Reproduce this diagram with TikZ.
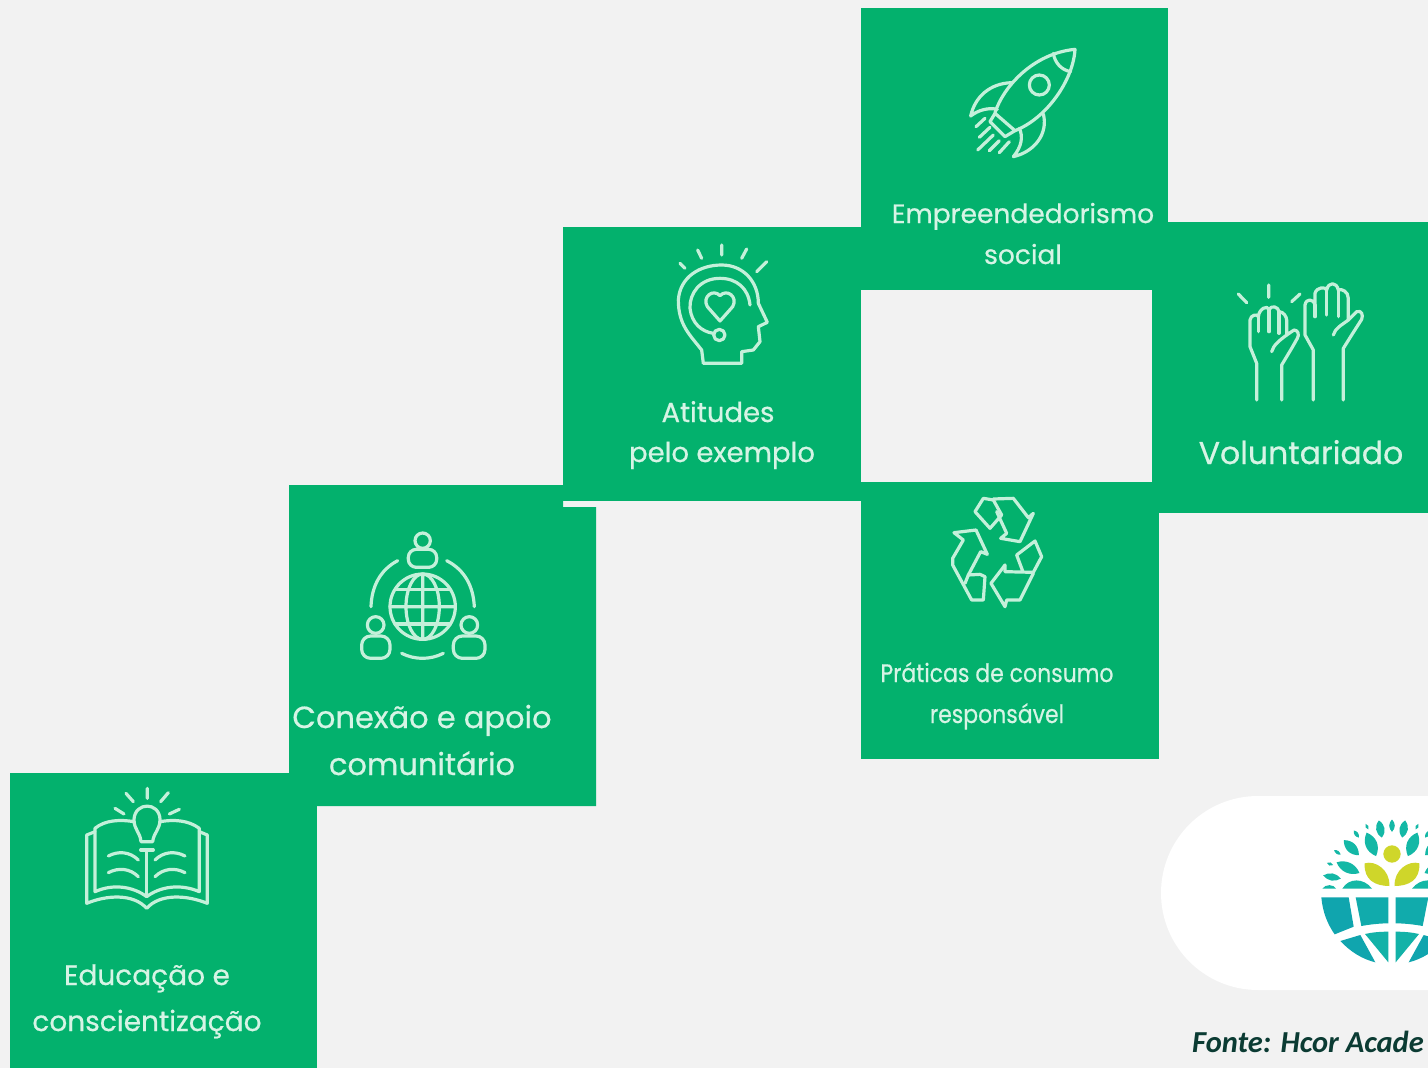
\documentclass[tikz,border=0pt]{standalone}
\usepackage{fontspec}
\setmainfont{Poppins}[FakeBold=0.6]
\newfontfamily\notefont{Carlito}
\definecolor{tilegreen}{HTML}{03B16D}
\definecolor{pagegray}{HTML}{F2F2F2}
\definecolor{iconline}{HTML}{C4F0DA}
\definecolor{labeltext}{HTML}{D6F4E5}
\definecolor{noteink}{HTML}{0B3B33}
\definecolor{leafteal}{HTML}{14B8A6}
\definecolor{leafyellow}{HTML}{CFD62A}
\definecolor{globeteal}{HTML}{10A5AE}
\tikzset{
  iconpath/.style={draw=iconline,line width=3.2pt,line cap=round,line join=round},
  tilelabel/.style={text=labeltext,anchor=base,inner sep=0pt,font=\fontsize{#1}{#1}\selectfont},
  leaf/.style={fill=leafteal},
  globepiece/.style={fill=globeteal}
}
\newcommand{\logoleaf}[5]{\fill[leaf,shift={(#1,#2)},rotate=#5] (0,-#3) .. controls (#4*1.3,-#3*.4) and (#4*1.3,#3*.4) .. (0,#3) .. controls (-#4*1.3,#3*.4) and (-#4*1.3,-#3*.4) .. cycle;}
\begin{document}
\begin{tikzpicture}[>=stealth,x=1pt,y=-1pt]
  \useasboundingbox (0,0) rectangle (1428,1068);
  \clip (0,0) rectangle (1428,1068);
  \fill[pagegray] (0,0) rectangle (1428,1068);
  % tiles
  \fill[tilegreen] (10,773) rectangle (317,1068);
  \fill[tilegreen] (289,485) -- (563,485) -- (563,507) -- (596,507) -- (596,806) -- (289,806) -- cycle;
  \fill[tilegreen] (563,227) rectangle (861,501);
  \fill[tilegreen] (861,8) rectangle (1168,290);
  \fill[tilegreen] (1152,222) rectangle (1428,513);
  \fill[tilegreen] (861,482) rectangle (1159,759);
  % labels
  \node[tilelabel=28] (educacao) at (147,985) {Educação e};
  \node[tilelabel=28] (conscient) at (147,1031) {conscientização};
  \node[tilelabel=30.5] (conexao) at (422,728) {Conexão e apoio};
  \node[tilelabel=30.5] (comunit) at (422,775) {comunitário};
  \node[tilelabel=27.5] (atitudes) at (718,422) {Atitudes};
  \node[tilelabel=27.5] (exemplo) at (722,462) {pelo exemplo};
  \node[tilelabel=26.5] (empreend) at (1023,223) {Empreendedorismo};
  \node[tilelabel=26.5] (socialtxt) at (1023,264) {social};
  \node[tilelabel=31.5] (volunt) at (1301,464) {Voluntariado};
  \node[tilelabel=22,yscale=1.15,transform shape] (praticas) at (997,682) {Práticas de consumo};
  \node[tilelabel=22,yscale=1.15,transform shape] (respons) at (997,723) {responsável};
  % rocket
  \begin{scope}[shift={(940,30)},scale=1/3,iconpath]
    \draw (165,248) .. controls (190,170) and (280,70) .. (405,58) .. controls (400,150) and (320,265) .. (225,302);
    \draw (340,70) .. controls (345,100) and (365,120) .. (392,125);
    \draw (298,165) circle (30);
    \draw (215,158) .. controls (150,160) and (105,200) .. (92,258) .. controls (115,240) and (145,232) .. (172,238);
    \draw (310,252) .. controls (325,310) and (285,365) .. (220,380) .. controls (245,350) and (250,320) .. (238,295);
    \draw (165,250) -- (225,302) -- (195,320) -- (150,275) -- cycle;
    \draw (108,290) -- (135,265) (118,322) -- (150,292) (113,360) -- (160,315) (148,362) -- (178,332) (178,368) -- (208,335);
  \end{scope}
  % head
  \begin{scope}[shift={(650,235)},scale=1/3,iconpath]
    \draw (90,85) -- (105,100) (143,45) -- (155,70) (215,30) -- (215,60) (290,42) -- (275,70) (350,80) -- (320,110);
    \draw (160,385) -- (155,345) .. controls (120,300) and (85,270) .. (85,195) .. controls (90,125) and (150,90) .. (215,90) .. controls (280,90) and (325,140) .. (325,205) -- (352,262) -- (325,275) -- (330,320) -- (310,345) -- (275,350) -- (275,385) -- cycle;
    \draw (300,210) .. controls (295,160) and (260,130) .. (210,130) .. controls (150,130) and (118,175) .. (120,220) .. controls (125,265) and (155,290) .. (190,295);
    \draw (208,300) circle (17);
    \draw (210,258) -- (172,215) .. controls (155,185) and (190,160) .. (210,182) .. controls (230,160) and (265,185) .. (248,215) -- cycle;
  \end{scope}
  % hands
  \begin{scope}[shift={(1220,270)},scale=1/3,iconpath]
    \draw (55,72) -- (80,98) (146,45) -- (146,82) (240,72) -- (215,95);
    \draw (280,390) -- (280,240) -- (255,195) -- (255,105) .. controls (258,85) and (280,85) .. (285,105) -- (285,70) .. controls (290,50) and (318,50) .. (320,60) .. controls (325,35) and (350,35) .. (355,60) .. controls (365,55) and (385,65) .. (385,85) -- (385,150) -- (410,125) .. controls (425,120) and (430,135) .. (425,148) -- (395,195) -- (370,235) -- (370,390);
    \draw (285,105) -- (285,140) (320,60) -- (320,135) (355,60) -- (355,140);
    \draw (340,195) .. controls (345,175) and (365,165) .. (385,150);
    \draw (110,390) -- (110,280) -- (90,230) -- (90,150) .. controls (92,135) and (112,130) .. (115,140) .. controls (118,115) and (142,105) .. (147,118) .. controls (155,105) and (175,110) .. (177,125) .. controls (190,125) and (200,140) .. (200,150) -- (200,195) -- (222,180) .. controls (235,180) and (238,195) .. (232,205) -- (215,235) -- (185,285) -- (185,390);
    \draw (115,140) -- (115,185) (147,118) -- (147,185) (177,125) -- (177,190);
    \draw (155,245) .. controls (160,225) and (180,210) .. (200,195);
  \end{scope}
  % recycle
  \begin{scope}[shift={(930,485)},scale=1/3,iconpath]
    \draw (135,80) -- (160,40) -- (190,45) -- (215,90) -- (180,130) -- cycle;
    \draw (190,42) -- (250,40) -- (295,98) -- (310,85) -- (270,170) -- (212,160) -- (230,145) -- (200,80);
    \draw (72,143) -- (138,135) -- (172,208) -- (152,200) -- (115,270) -- (150,268) -- (165,275) -- (160,345) -- (125,345) -- (68,240) -- (68,220) -- (100,165) -- cycle;
    \draw (115,270) -- (105,295);
    \draw (225,240) -- (225,260) -- (310,262) -- (335,215) -- (315,168) -- (260,210) -- (278,258);
    \draw (225,240) -- (183,295) -- (225,365) -- (230,345) -- (270,345) -- (310,265);
  \end{scope}
  % globe and people
  \begin{scope}[shift={(345,520)},scale=1/3,iconpath]
    \draw (233,62) circle (23);
    \draw[rounded corners=8pt] (190,142) rectangle (275,88);
    \draw (92,315) circle (25);
    \draw[rounded corners=9pt] (50,415) rectangle (135,348);
    \draw (373,315) circle (25);
    \draw[rounded corners=9pt] (325,415) rectangle (420,348);
    \draw (158,122) .. controls (105,150) and (80,200) .. (78,260);
    \draw (305,122) .. controls (360,150) and (385,200) .. (388,260);
    \draw (170,400) .. controls (210,420) and (255,420) .. (295,400);
    \draw (233,260) circle (98);
    \draw (233,260) ellipse (50 and 98) (233,162) -- (233,358) (135,260) -- (331,260);
    \draw (150,208) -- (316,208) (150,312) -- (316,312);
  \end{scope}
  % book
  \begin{scope}[shift={(70,780)},scale=1/3,iconpath]
    \draw (168,40) -- (190,65) (232,25) -- (232,55) (295,38) -- (272,65) (135,85) -- (162,102) (328,88) -- (298,102);
    \draw (213,185) .. controls (210,155) and (192,150) .. (192,118) .. controls (195,65) and (268,65) .. (270,118) .. controls (270,150) and (252,155) .. (248,185) -- cycle;
    \draw (212,210) -- (250,210) (230,210) -- (230,345);
    \draw (192,125) .. controls (150,118) and (105,120) .. (75,145) -- (75,335) .. controls (130,310) and (190,320) .. (230,350) .. controls (270,320) and (330,310) .. (388,335) -- (388,145) .. controls (355,120) and (310,118) .. (270,125);
    \draw (75,155) -- (50,165) -- (50,370) .. controls (110,345) and (190,340) .. (230,385) .. controls (270,340) and (350,345) .. (412,370) -- (412,165) -- (388,155);
    \draw (115,228) .. controls (145,212) and (180,215) .. (205,240) (115,278) .. controls (145,262) and (180,265) .. (205,290);
    \draw (255,240) .. controls (280,215) and (315,212) .. (345,228) (255,290) .. controls (280,265) and (315,262) .. (345,278);
  \end{scope}
  % logo
  \fill[white] (1428,796) -- (1258,796) arc[start angle=-90,end angle=-270,radius=97] -- (1428,990) -- cycle;
  \begin{scope}[shift={(1392,780)},scale=1/3]
    \fill[leafyellow] (0,222) circle (26);
    \foreach \s in {1,-1} {
      \begin{scope}[xscale=\s]
        \fill[leafyellow] (-82,250) .. controls (-50,240) and (-5,270) .. (-8,318) .. controls (-50,318) and (-85,300) .. cycle;
        \logoleaf{0}{137}{18}{8}{0}
        \logoleaf{-35}{147}{26}{13}{10}
        \logoleaf{-75}{140}{9}{5}{25}
        \logoleaf{-107}{162}{13}{6}{35}
        \logoleaf{-62}{193}{38}{18}{22}
        \logoleaf{-122}{203}{32}{15}{45}
        \logoleaf{-164}{217}{12}{5}{55}
        \logoleaf{-132}{263}{38}{16}{65}
        \logoleaf{-186}{252}{10}{5}{70}
        \logoleaf{-180}{291}{27}{11}{80}
        \fill[leaf] (-209,326) .. controls (-200,312) and (-175,312) .. (-168,326) -- cycle;
        \fill[leaf] (-149,326) .. controls (-130,293) and (-85,293) .. (-60,326) -- cycle;
        \fill[globepiece] (-212,352) -- (-130,352) -- (-115,440) -- (-172,463) .. controls (-195,430) and (-208,395) .. cycle;
        \fill[globeteal!70!leafteal] (-109,352) -- (-11,352) -- (-11,430) .. controls (-40,430) and (-70,434) .. (-92,438) -- cycle;
        \fill[globepiece] (-155,483) -- (-95,465) -- (-50,547) .. controls (-90,537) and (-125,515) .. cycle;
        \fill[leafteal!70!globeteal] (-81,462) .. controls (-60,457) and (-35,455) .. (-11,455) -- (-11,547) -- cycle;
      \end{scope}
    }
  \end{scope}
  \node[anchor=base west,inner sep=0pt,text=noteink,font=\notefont\bfseries\itshape\fontsize{30.5}{30.5}\selectfont] (fonte) at (1192,1052) {Fonte: Hcor Acade};
\end{tikzpicture}
\end{document}
